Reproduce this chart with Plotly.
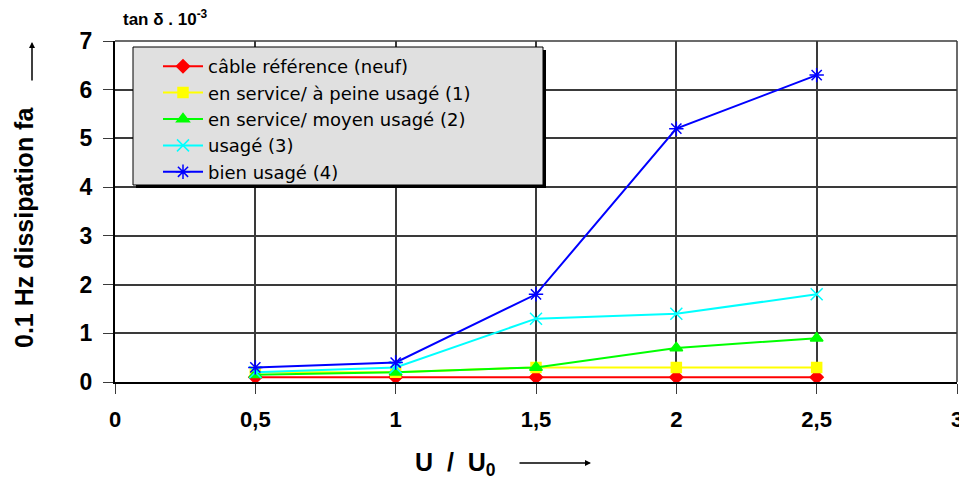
import plotly.graph_objects as go

x_vals = [0.5, 1, 1.5, 2, 2.5]
ref_new = [0.1, 0.1, 0.1, 0.1, 0.1]
service_1 = [0.2, 0.2, 0.3, 0.3, 0.3]
service_2 = [0.15, 0.2, 0.3, 0.7, 0.9]
used_3 = [0.2, 0.3, 1.3, 1.4, 1.8]
well_used_4 = [0.3, 0.4, 1.8, 5.2, 6.3]

names = ["câble référence (neuf)", "en service/ à peine usagé (1)",
         "en service/ moyen usagé (2)", "usagé (3)", "bien usagé (4)"]
series = [ref_new, service_1, service_2, used_3, well_used_4]
colors = ["#ff0000", "#ffff00", "#00ff00", "#00ffff", "#0000ff"]
symbols = ["diamond", "square", "triangle-up", "x-thin-open", "asterisk-open"]
msizes = [10, 10, 11, 12, 12]

x_ticks = [0, 0.5, 1, 1.5, 2, 2.5, 3]
x_ticklabels = ["0", "0,5", "1", "1,5", "2", "2,5", "3"]
y_ticks = [0, 1, 2, 3, 4, 5, 6, 7]

OFF = 8  # page body margin
L, R, T, B = 115, 957, 41, 382  # plot area in screenshot pixels
W, H = R - L, B - T
def px(p):
    return (p - L) / W
def py(p):
    return (B - p) / H

fig = go.Figure()
for name, ys, c, s, ms in zip(names, series, colors, symbols, msizes):
    fig.add_trace(go.Scatter(
        x=x_vals, y=ys, name=name, mode="lines+markers",
        line=dict(color=c, width=2),
        marker=dict(symbol=s, size=ms, color=c, line=dict(color=c, width=1.5)),
    ))

fig.update_layout(
    width=967 - OFF, height=481 - OFF,
    margin=dict(l=L - OFF, r=967 - R, t=T - OFF, b=481 - B),
    paper_bgcolor="white", plot_bgcolor="white",
    font=dict(family="Liberation Sans, Arial, sans-serif", color="black"),
    showlegend=True,
    legend=dict(
        x=px(158), y=py(48), xanchor="left", yanchor="top",
        bgcolor="rgba(0,0,0,0)", borderwidth=0,
        font=dict(size=18, color="black", family="DejaVu Sans"),
        itemwidth=40, tracegroupgap=0,
    ),
    xaxis=dict(
        range=[0, 3], tickvals=x_ticks, ticktext=x_ticklabels,
        showgrid=True, gridcolor="#3a3a3a", gridwidth=1.5,
        showline=True, linecolor="black", linewidth=2,
        ticks="outside", ticklen=10, tickcolor="#3a3a3a",
        tickfont=dict(size=22, family="Liberation Sans, Arial", weight="bold"),
        ticklabelstandoff=7, automargin=False,
        zeroline=False, fixedrange=True,
    ),
    yaxis=dict(
        range=[0, 7], tickvals=y_ticks,
        showgrid=True, gridcolor="#3a3a3a", gridwidth=1.5,
        showline=True, linecolor="black", linewidth=2,
        ticks="outside", ticklen=10, tickcolor="#3a3a3a",
        tickfont=dict(size=23, family="Liberation Sans, Arial", weight="bold"),
        ticklabelstandoff=6, automargin=False,
        zeroline=False, fixedrange=True,
    ),
)

# frame top/right edges
fig.add_shape(type="line", xref="paper", yref="paper", x0=0, x1=1, y0=1, y1=1,
              line=dict(color="#3a3a3a", width=1.5))
fig.add_shape(type="line", xref="paper", yref="paper", x0=1, x1=1, y0=0, y1=1,
              line=dict(color="#3a3a3a", width=1.5))

# legend box shadow and box
fig.add_shape(type="rect", xref="paper", yref="paper",
              x0=px(136), x1=px(546), y0=py(188), y1=py(50),
              fillcolor="black", line=dict(width=0), layer="above")
fig.add_shape(type="rect", xref="paper", yref="paper",
              x0=px(133), x1=px(543), y0=py(185), y1=py(47),
              fillcolor="#e0e0e0", line=dict(color="black", width=1), layer="above")

# y-axis title (rotated)
fig.add_annotation(text="<b>0.1 Hz dissipation fa</b>", xref="paper", yref="paper",
                   x=px(8), y=py(228), textangle=-90, showarrow=False,
                   font=dict(size=25, color="black"))
# vertical arrow
fig.add_annotation(xref="paper", yref="paper", x=px(32), y=py(42),
                   ax=0, ay=40, text="", showarrow=True, arrowhead=2, arrowsize=0.8,
                   arrowwidth=1.5, arrowcolor="black")
# top-left unit label
fig.add_annotation(text="<b>tan δ . 10<sup>-3</sup></b>", xref="paper", yref="paper",
                   x=px(121), y=py(5), xanchor="left", showarrow=False,
                   font=dict(size=17, color="black"))
# x-axis title
fig.add_annotation(text="<b>U&nbsp;&nbsp;/&nbsp;&nbsp;U<sub>0</sub></b>", xref="paper", yref="paper",
                   x=px(455), y=py(482), showarrow=False,
                   font=dict(size=25, color="black"))
# horizontal arrow
fig.add_annotation(xref="paper", yref="paper", x=px(591), y=py(463),
                   ax=-73, ay=0, text="", showarrow=True, arrowhead=2, arrowsize=0.8,
                   arrowwidth=1.5, arrowcolor="black")

fig.write_html("out.html")
